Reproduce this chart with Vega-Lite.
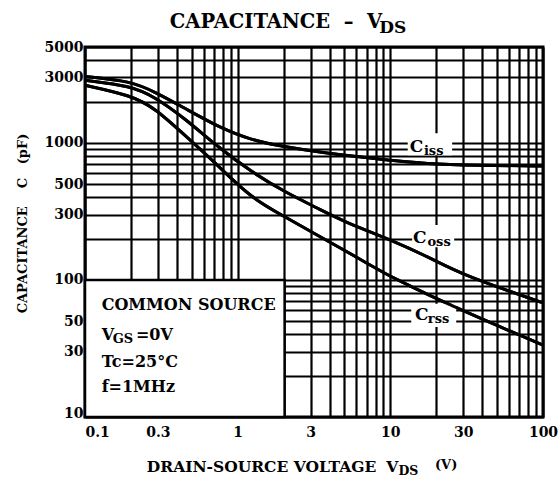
{
  "$schema": "https://vega.github.io/schema/vega-lite/v6.json",
  "width": 458,
  "height": 370,
  "autosize": "none",
  "padding": {"left": 85, "top": 47, "right": 17, "bottom": 62},
  "background": "white",
  "config": {
    "view": {"stroke": "black", "strokeWidth": 3},
    "font": "DejaVu Serif",
    "text": {"font": "DejaVu Serif", "fontWeight": "bold", "color": "black"}
  },
  "data": {"values": [{}]},
  "datasets": {
    "curves": [
      {"series": "Ciss", "V": 0.1, "C": 3050},
      {"series": "Ciss", "V": 0.2, "C": 2820},
      {"series": "Ciss", "V": 0.287, "C": 2350},
      {"series": "Ciss", "V": 0.45, "C": 1790},
      {"series": "Ciss", "V": 0.74, "C": 1310},
      {"series": "Ciss", "V": 1.23, "C": 1045},
      {"series": "Ciss", "V": 2.03, "C": 935},
      {"series": "Ciss", "V": 3.33, "C": 860},
      {"series": "Ciss", "V": 5, "C": 812},
      {"series": "Ciss", "V": 10, "C": 745},
      {"series": "Ciss", "V": 20, "C": 695},
      {"series": "Ciss", "V": 50, "C": 682},
      {"series": "Ciss", "V": 100, "C": 678},
      {"series": "Coss", "V": 0.1, "C": 2860},
      {"series": "Coss", "V": 0.2, "C": 2600},
      {"series": "Coss", "V": 0.287, "C": 2160},
      {"series": "Coss", "V": 0.45, "C": 1510},
      {"series": "Coss", "V": 0.74, "C": 934},
      {"series": "Coss", "V": 1.23, "C": 614},
      {"series": "Coss", "V": 2.03, "C": 438},
      {"series": "Coss", "V": 3.33, "C": 334},
      {"series": "Coss", "V": 5, "C": 265},
      {"series": "Coss", "V": 10, "C": 197},
      {"series": "Coss", "V": 18, "C": 146},
      {"series": "Coss", "V": 30, "C": 108},
      {"series": "Coss", "V": 100, "C": 68},
      {"series": "Crss", "V": 0.1, "C": 2630},
      {"series": "Crss", "V": 0.2, "C": 2220},
      {"series": "Crss", "V": 0.287, "C": 1790},
      {"series": "Crss", "V": 0.45, "C": 1136},
      {"series": "Crss", "V": 0.74, "C": 687},
      {"series": "Crss", "V": 1.23, "C": 394},
      {"series": "Crss", "V": 2.03, "C": 290},
      {"series": "Crss", "V": 3, "C": 226},
      {"series": "Crss", "V": 6.56, "C": 139},
      {"series": "Crss", "V": 10, "C": 105},
      {"series": "Crss", "V": 30, "C": 59},
      {"series": "Crss", "V": 100, "C": 33.5}
    ]
  },
  "layer": [
    {
      "data": {"name": "curves"},
      "mark": {"type": "line", "color": "black", "strokeWidth": 3, "interpolate": "basis"},
      "encoding": {
        "x": {
          "field": "V", "type": "quantitative",
          "scale": {"type": "log", "domain": [0.1, 100], "nice": false},
          "axis": {
            "values": [0.1,0.2,0.3,0.4,0.5,0.6,0.7,0.8,0.9,1,2,3,4,5,6,7,8,9,10,20,30,40,50,60,70,80,90,100],
            "grid": true, "gridColor": "black", "gridWidth": 2.2, "gridOpacity": 1,
            "domain": false, "ticks": false, "format": "~g",
            "labelExpr": "indexof([0.1,0.3,1,3,10,30,100], datum.value) >= 0 ? datum.label : ''",
            "labelFont": "DejaVu Serif", "labelFontWeight": "bold", "labelFontSize": 14, "labelColor": "black",
            "labelPadding": 8, "labelFlush": false, "labelOverlap": false,
            "labelAlign": {"condition": {"test": "datum.value == 0.1", "value": "left"}, "value": "center"},
            "title": null
          }
        },
        "y": {
          "field": "C", "type": "quantitative",
          "scale": {"type": "log", "domain": [10, 5000], "nice": false},
          "axis": {
            "values": [10,20,30,40,50,60,70,80,90,100,200,300,400,500,600,700,800,900,1000,2000,3000,4000,5000],
            "grid": true, "gridColor": "black", "gridWidth": 2.2, "gridOpacity": 1,
            "domain": false, "ticks": false, "format": "~g",
            "labelExpr": "indexof([10,30,50,100,300,500,1000,3000,5000], datum.value) >= 0 ? datum.label : ''",
            "labelFont": "DejaVu Serif", "labelFontWeight": "bold", "labelFontSize": 14, "labelColor": "black",
            "labelPadding": 2, "labelOverlap": false,
            "labelBaseline": {"condition": {"test": "datum.value == 10", "value": "alphabetic"}, "value": "middle"},
            "title": "CAPACITANCE\u00a0\u00a0\u00a0\u00a0C\u00a0\u00a0\u00a0(pF)",
            "titleFont": "DejaVu Serif", "titleFontWeight": "bold", "titleFontSize": 13, "titleColor": "black",
            "titleAngle": 270, "titleX": -63, "titleY": 176, "titleAlign": "center", "titleBaseline": "middle"
          }
        },
        "detail": {"field": "series", "type": "nominal"}
      }
    },
    {
      "mark": {"type": "rect", "fill": "white"},
      "encoding": {
        "x": {"datum": 13, "type": "quantitative"},
        "x2": {"datum": 25.4},
        "y": {"datum": 1175, "type": "quantitative"},
        "y2": {"datum": 812}
      }
    },
    {
      "mark": {"type": "rect", "fill": "white"},
      "encoding": {
        "x": {"datum": 13.9, "type": "quantitative"},
        "x2": {"datum": 26.2},
        "y": {"datum": 251, "type": "quantitative"},
        "y2": {"datum": 173}
      }
    },
    {
      "mark": {"type": "rect", "fill": "white"},
      "encoding": {
        "x": {"datum": 13.7, "type": "quantitative"},
        "x2": {"datum": 27},
        "y": {"datum": 67, "type": "quantitative"},
        "y2": {"datum": 45.3}
      }
    },
    {
      "data": {"name": "curves"},
      "mark": {"type": "line", "color": "black", "strokeWidth": 3, "interpolate": "basis"},
      "encoding": {
        "x": {"field": "V", "type": "quantitative"},
        "y": {"field": "C", "type": "quantitative"},
        "detail": {"field": "series", "type": "nominal"}
      }
    },
    {
      "mark": {"type": "rect", "fill": "white", "stroke": "black", "strokeWidth": 2.5},
      "encoding": {
        "x": {"datum": 0.1, "type": "quantitative"},
        "x2": {"datum": 2.03},
        "y": {"datum": 10, "type": "quantitative"},
        "y2": {"datum": 100}
      }
    },
    {"mark": {"type": "text", "text": "COMMON SOURCE", "fontSize": 16, "align": "left", "baseline": "alphabetic"},
     "encoding": {"x": {"datum": 0.1286, "type": "quantitative"}, "y": {"datum": 60.3, "type": "quantitative"}}},
    {"mark": {"type": "text", "text": "V", "fontSize": 16, "align": "left", "baseline": "alphabetic"},
     "encoding": {"x": {"datum": 0.1286, "type": "quantitative"}, "y": {"datum": 36.4, "type": "quantitative"}}},
    {"mark": {"type": "text", "text": "GS", "fontSize": 13, "align": "left", "baseline": "alphabetic"},
     "encoding": {"x": {"datum": 0.1517, "type": "quantitative"}, "y": {"datum": 34.6, "type": "quantitative"}}},
    {"mark": {"type": "text", "text": "=0V", "fontSize": 16, "align": "left", "baseline": "alphabetic"},
     "encoding": {"x": {"datum": 0.2156, "type": "quantitative"}, "y": {"datum": 36.4, "type": "quantitative"}}},
    {"mark": {"type": "text", "text": "Tc=25°C", "fontSize": 16, "align": "left", "baseline": "alphabetic"},
     "encoding": {"x": {"datum": 0.1286, "type": "quantitative"}, "y": {"datum": 23.1, "type": "quantitative"}}},
    {"mark": {"type": "text", "text": "f=1MHz", "fontSize": 16, "align": "left", "baseline": "alphabetic"},
     "encoding": {"x": {"datum": 0.1286, "type": "quantitative"}, "y": {"datum": 15.2, "type": "quantitative"}}},
    {"mark": {"type": "text", "text": "C", "fontSize": 17, "align": "left", "baseline": "alphabetic"},
     "encoding": {"x": {"datum": 13.4, "type": "quantitative"}, "y": {"datum": 853, "type": "quantitative"}}},
    {"mark": {"type": "text", "text": "iss", "fontSize": 13, "align": "left", "baseline": "alphabetic"},
     "encoding": {"x": {"datum": 16.6, "type": "quantitative"}, "y": {"datum": 811, "type": "quantitative"}}},
    {"mark": {"type": "text", "text": "C", "fontSize": 17, "align": "left", "baseline": "alphabetic"},
     "encoding": {"x": {"datum": 14.1, "type": "quantitative"}, "y": {"datum": 185, "type": "quantitative"}}},
    {"mark": {"type": "text", "text": "oss", "fontSize": 13, "align": "left", "baseline": "alphabetic"},
     "encoding": {"x": {"datum": 17.5, "type": "quantitative"}, "y": {"datum": 177, "type": "quantitative"}}},
    {"mark": {"type": "text", "text": "C", "fontSize": 17, "align": "left", "baseline": "alphabetic"},
     "encoding": {"x": {"datum": 14.5, "type": "quantitative"}, "y": {"datum": 50.8, "type": "quantitative"}}},
    {"mark": {"type": "text", "text": "rss", "fontSize": 13, "align": "left", "baseline": "alphabetic"},
     "encoding": {"x": {"datum": 17.6, "type": "quantitative"}, "y": {"datum": 48.6, "type": "quantitative"}}},
    {"mark": {"type": "text", "text": "CAPACITANCE\u00a0\u00a0–\u00a0\u00a0V", "fontSize": 19.5, "align": "left", "baseline": "alphabetic"},
     "encoding": {"x": {"datum": 0.359, "type": "quantitative"}, "y": {"datum": 6843, "type": "quantitative"}}},
    {"mark": {"type": "text", "text": "DS", "fontSize": 17, "align": "left", "baseline": "alphabetic"},
     "encoding": {"x": {"datum": 8.45, "type": "quantitative"}, "y": {"datum": 6290, "type": "quantitative"}}},
    {"mark": {"type": "text", "text": "DRAIN-SOURCE VOLTAGE", "fontSize": 15.5, "align": "left", "baseline": "alphabetic"},
     "encoding": {"x": {"datum": 0.254, "type": "quantitative"}, "y": {"datum": 3.97, "type": "quantitative"}}},
    {"mark": {"type": "text", "text": "V", "fontSize": 15.5, "align": "left", "baseline": "alphabetic"},
     "encoding": {"x": {"datum": 9.4, "type": "quantitative"}, "y": {"datum": 3.97, "type": "quantitative"}}},
    {"mark": {"type": "text", "text": "DS", "fontSize": 12.5, "align": "left", "baseline": "alphabetic"},
     "encoding": {"x": {"datum": 11.3, "type": "quantitative"}, "y": {"datum": 3.75, "type": "quantitative"}}},
    {"mark": {"type": "text", "text": "(V)", "fontSize": 13, "align": "left", "baseline": "alphabetic"},
     "encoding": {"x": {"datum": 19.6, "type": "quantitative"}, "y": {"datum": 4.2, "type": "quantitative"}}}
  ]
}
